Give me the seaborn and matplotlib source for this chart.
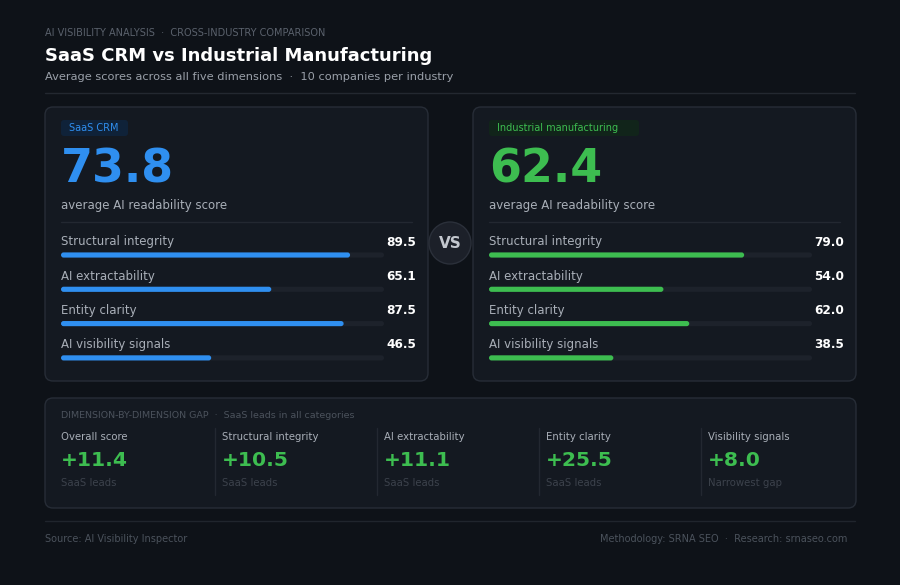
import numpy as np
import pandas as pd
import seaborn as sns
import matplotlib.pyplot as plt
from matplotlib.patches import FancyBboxPatch, Circle

# Data
dimensions = ["Structural integrity", "AI extractability", "Entity clarity", "AI visibility signals"]
saas_scores = [89.5, 65.1, 87.5, 46.5]
mfg_scores = [79.0, 54.0, 62.0, 38.5]
saas_overall = 73.8
mfg_overall = 62.4
gap_labels = ["Overall score", "Structural integrity", "AI extractability", "Entity clarity", "Visibility signals"]
gap_notes = ["SaaS leads", "SaaS leads", "SaaS leads", "SaaS leads", "Narrowest gap"]
gap_values = [saas_overall - mfg_overall] + [s - m for s, m in zip(saas_scores, mfg_scores)]

BG = "#0e1218"
PANEL = "#141921"
EDGE = "#272d37"
TRACK = "#1d222b"
BLUE = "#2f8ff0"
GREEN = "#3dbd50"
MUTED = "#5a616c"
DIM = "#3c424c"
LIGHT = "#a9afb8"

sns.set_theme(style="dark")
plt.rcParams["font.family"] = ["DejaVu Sans"]

W, H = 900, 585
fig = plt.figure(figsize=(9, 5.85), dpi=100, facecolor=BG)
bg = fig.add_axes([0, 0, 1, 1])
bg.set_xlim(0, W)
bg.set_ylim(H, 0)
bg.axis("off")
bg.set_facecolor(BG)


def panel(x0, y0, x1, y1, fc=PANEL, ec=EDGE, r=8):
    bg.add_patch(FancyBboxPatch((x0, y0), x1 - x0, y1 - y0,
                                boxstyle=f"round,pad=0,rounding_size={r}",
                                fc=fc, ec=ec, lw=1))


# header
bg.text(45, 33, "AI VISIBILITY ANALYSIS  ·  CROSS-INDUSTRY COMPARISON", color=MUTED,
        fontsize=7, va="center")
bg.text(45, 56, "SaaS CRM vs Industrial Manufacturing", color="white", fontsize=13,
        fontweight="bold", va="center")
bg.text(45, 77, "Average scores across all five dimensions  ·  10 companies per industry",
        color="#9aa0a9", fontsize=8.2, va="center")
bg.plot([45, 855], [93, 93], color="#232830", lw=1)


def industry_panel(x0, name, overall, scores, color, badge_bg, badge_w):
    panel(x0, 107, x0 + 383, 381)
    bg.add_patch(FancyBboxPatch((x0 + 16, 120), badge_w, 16,
                                boxstyle="round,pad=0,rounding_size=3", fc=badge_bg, ec="none"))
    bg.text(x0 + 24, 128, name, color=color, fontsize=7, va="center")
    bg.text(x0 + 16, 170, f"{overall:.1f}", color=color, fontsize=33, fontweight="bold",
            va="center")
    bg.text(x0 + 16, 206, "average AI readability score", color=LIGHT, fontsize=8.5, va="center")
    bg.plot([x0 + 16, x0 + 367], [222, 222], color="#232831", lw=1)

    # bars: axes spans 61..384 px horizontally, rows spaced 34.3 px
    left, right = x0 + 16, x0 + 339
    step = 34.3
    top = 255 - step / 2
    bottom = top + 4 * step
    ax = fig.add_axes([left / W, 1 - bottom / H, (right - left) / W, (bottom - top) / H])
    df = pd.DataFrame({"dimension": dimensions, "score": scores, "track": [100] * 4})
    sns.barplot(data=df, x="track", y="dimension", color=TRACK, width=0.15, ax=ax,
                saturation=1)
    sns.barplot(data=df, x="score", y="dimension", color=color, width=0.15, ax=ax,
                saturation=1)
    # round bar ends
    xpp = 100 / (right - left)
    ypp = 1 / step
    for p in list(ax.patches):
        bx, by = p.get_x(), p.get_y()
        bw, bh = p.get_width(), p.get_height()
        fc = p.get_facecolor()
        p.remove()
        ax.add_patch(FancyBboxPatch((bx, by), bw, bh,
                                    boxstyle=f"round,pad=0,rounding_size={2.6 * xpp}",
                                    mutation_aspect=ypp / xpp, fc=fc, ec="none"))
    ax.set_xlim(0, 100)
    ax.set_ylim(3.5, -0.5)
    ax.axis("off")
    ax.patch.set_alpha(0)
    for i, (d, s) in enumerate(zip(dimensions, scores)):
        ax.text(0, i - 13 / step, d, color=LIGHT, fontsize=8.5, va="center", ha="left")
        ax.text(100 + 32 * xpp, i - 13 / step, f"{s:.1f}", color="white", fontsize=8.7,
                fontweight="bold", va="center", ha="right", clip_on=False)


industry_panel(45, "SaaS CRM", saas_overall, saas_scores, BLUE, "#0f2239", 67)
industry_panel(473, "Industrial manufacturing", mfg_overall, mfg_scores, GREEN, "#11241a", 150)

# VS badge
bg.add_patch(Circle((450, 243), 21, fc="#1c2029", ec="#2b303a", lw=1, zorder=5))
bg.text(450, 243.5, "VS", color="#c3c7ce", fontsize=11, fontweight="bold", ha="center",
        va="center", zorder=6)

# gap panel
panel(45, 398, 856, 508)
bg.text(61, 415, "DIMENSION-BY-DIMENSION GAP  ·  SaaS leads in all categories", color="#4b525c",
        fontsize=6.8, va="center")
col_x = [61, 222, 384, 546, 708]
for i, (cx, lab, val, note) in enumerate(zip(col_x, gap_labels, gap_values, gap_notes)):
    if i > 0:
        bg.plot([cx - 7, cx - 7], [428, 495], color="#232831", lw=1)
    bg.text(cx, 437, lab, color=LIGHT, fontsize=7.3, va="center")
    bg.text(cx, 460, f"+{val:.1f}", color=GREEN, fontsize=14.6, fontweight="bold", va="center")
    bg.text(cx, 483, note, color=DIM, fontsize=7.3, va="center")

# footer
bg.plot([45, 855], [521, 521], color="#20252d", lw=1)
bg.text(45, 539, "Source: AI Visibility Inspector", color="#4b525c", fontsize=7, va="center")
bg.text(847, 539, "Methodology: SRNA SEO  ·  Research: srnaseo.com", color="#4b525c",
        fontsize=7, va="center", ha="right")

fig.savefig("out.png", dpi=100, facecolor=BG)
